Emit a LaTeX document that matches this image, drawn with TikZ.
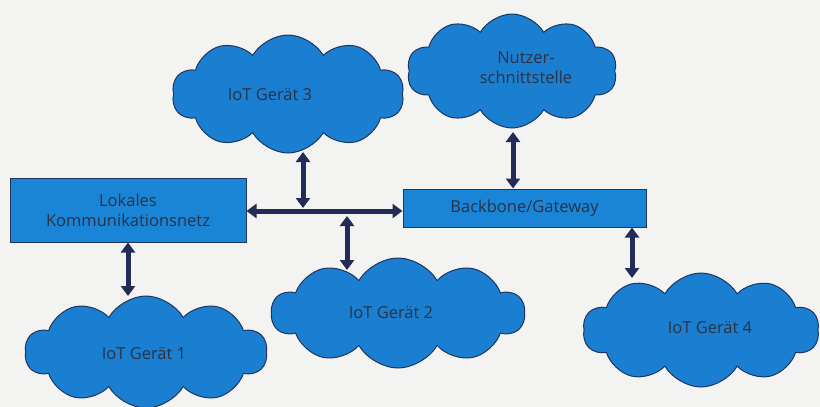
\documentclass[tikz,border=0pt]{standalone}
\usepackage{fontspec}
\setmainfont{Open Sans}
\usetikzlibrary{shapes.symbols,arrows.meta}
\definecolor{bg}{HTML}{F3F3F1}
\definecolor{cloudfill}{HTML}{1A7FD0}
\definecolor{boxfill}{HTML}{1A84D6}
\definecolor{edge}{HTML}{1F3560}
\definecolor{arrowc}{HTML}{232B58}
\definecolor{txt}{HTML}{2A3345}
\begin{document}
\begin{tikzpicture}[x=1pt,y=-1pt,
  wolke/.style={shape=cloud, cloud puffs=10, cloud puff arc=120, aspect=2,
    fill=cloudfill, draw=edge, line width=1pt, inner sep=0pt},
  label/.style={font=\fontsize{16.5}{20}\selectfont, text=txt, align=center},
  kasten/.style={rectangle, fill=boxfill, draw=edge, line width=1pt,
    font=\fontsize{16.5}{20}\selectfont, text=txt, align=center, inner sep=0pt},
  pfeil/.style={draw=arrowc, line width=5pt,
    {Triangle[width=14pt,length=10pt]}-{Triangle[width=14pt,length=10pt]}}]
\fill[bg] (0,0) rectangle (820,407);
\useasboundingbox (0,0) rectangle (820,407);

\node[kasten, minimum width=236pt, minimum height=64pt] (lok) at (128,210) {Lokales\\Kommunikationsnetz};
\node[kasten, minimum width=243pt, minimum height=38pt] (bb) at (524.5,208) {Backbone/Gateway};

\node[wolke, minimum width=232pt, minimum height=118pt] (c3) at (288,94) {};
\node[label] (t3) at (270,95) {IoT Gerät 3};
\node[wolke, minimum width=210pt, minimum height=114pt] (nu) at (512,71) {};
\node[label] (tn) at (526,68) {Nutzer-\\schnittstelle};
\node[wolke, minimum width=242pt, minimum height=112pt] (c1) at (146,352) {};
\node[label] (t1) at (144,354) {IoT Gerät 1};
\node[wolke, minimum width=253pt, minimum height=110pt] (c2) at (398,313) {};
\node[label] (t2) at (391,313) {IoT Gerät 2};
\node[wolke, minimum width=236pt, minimum height=114pt] (c4) at (701,330) {};
\node[label] (t4) at (710,328) {IoT Gerät 4};

\coordinate (j1) at (303,208);
\coordinate (j2) at (347,216);
\coordinate (c3b) at (303,152);
\coordinate (c2t) at (347,270);
\coordinate (c1t) at (128,296);
\coordinate (nub) at (513,132);
\coordinate (c4t) at (632,278);

\draw[pfeil] (lok.east |- 0,211) -- (bb.west |- 0,211);
\draw[pfeil] (c3b) -- (j1);
\draw[pfeil] (j2) -- (c2t);
\draw[pfeil] (lok.south -| c1t) -- (c1t);
\draw[pfeil] (nub) -- (bb.north -| nub);
\draw[pfeil] (bb.south -| c4t) -- (c4t);
\end{tikzpicture}
\end{document}
